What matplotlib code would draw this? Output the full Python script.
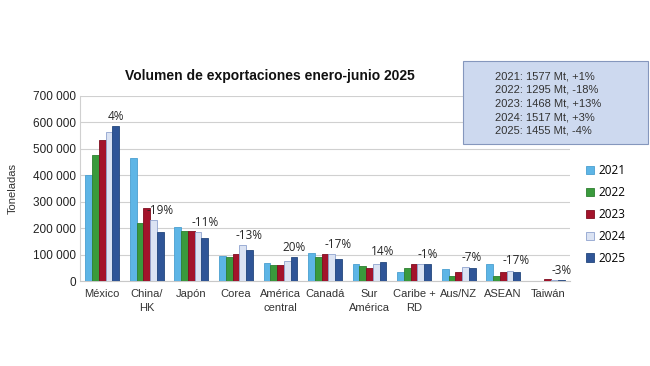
import matplotlib
matplotlib.use("Agg")
import matplotlib.pyplot as plt
import numpy as np

categories = ["México", "China/\nHK", "Japón", "Corea", "América\ncentral", "Canadá",
              "Sur\nAmérica", "Caribe +\nRD", "Aus/NZ", "ASEAN", "Taiwán"]
years = ["2021", "2022", "2023", "2024", "2025"]
v2021 = [400000, 467000, 206000, 96000, 67000, 106000, 66000, 34000, 47000, 64000, 1500]
v2022 = [475000, 221000, 189000, 92000, 60000, 91000, 56000, 49000, 19000, 21000, 800]
v2023 = [533000, 275000, 189000, 102000, 62000, 101000, 51000, 64000, 35000, 34000, 8000]
v2024 = [565000, 230000, 184000, 136000, 76000, 103000, 66000, 64000, 54000, 40000, 4500]
v2025 = [586000, 184000, 163000, 118000, 91000, 84000, 74000, 63000, 50000, 33000, 4300]
pct_labels = ["4%", "-19%", "-11%", "-13%", "20%", "-17%", "14%", "-1%", "-7%", "-17%", "-3%"]
yticks = [0, 100000, 200000, 300000, 400000, 500000, 600000, 700000]
ytick_labels = ["0", "100 000", "200 000", "300 000", "400 000", "500 000", "600 000", "700 000"]
summary_lines = ["2021: 1577 Mt, +1%", "2022: 1295 Mt, -18%", "2023: 1468 Mt, +13%",
                 "2024: 1517 Mt, +3%", "2025: 1455 Mt, -4%"]

series = [v2021, v2022, v2023, v2024, v2025]
colors = ["#5db5e6", "#3a9a3c", "#a3132b", "#dbe3f3", "#2f5597"]
edges = ["#4a9fd0", "#2e7f30", "#7f0e20", "#8fa3cf", "#24477d"]

plt.rcParams['font.family'] = ['Liberation Sans', 'DejaVu Sans']
fig = plt.figure(figsize=(6.5, 3.66), dpi=100)
ax = fig.add_axes([0.123, 0.232, 0.754, 0.506])

x = np.arange(len(categories))
bw = 0.152
for i, (vals, c, ec) in enumerate(zip(series, colors, edges)):
    ax.bar(x + (i - 2) * bw, vals, width=bw, color=c, edgecolor=ec, linewidth=0.6,
           label=years[i], zorder=3)

for xi, lab, a, b in zip(x, pct_labels, v2024, v2025):
    ax.text(xi + 0.3, max(a, b) + 36000, lab, ha='center', va='center', fontsize=8.5,
            color='#262626', family=['Open Sans', 'DejaVu Sans'], zorder=4)

ax.set_xlim(-0.5, len(categories) - 0.5)
ax.set_ylim(0, 700000)
ax.set_yticks(yticks)
ax.set_yticklabels(ytick_labels, fontsize=8.5, color='#222222')
ax.set_xticks(x)
ax.set_xticklabels(categories, fontsize=8, color='#333333', linespacing=1.45)
ax.tick_params(axis='y', length=0, pad=3)
ax.tick_params(axis='x', length=0, pad=6)
ax.grid(axis='y', color='#d0d0d0', linewidth=0.8, zorder=0)
for s in ['top', 'right']:
    ax.spines[s].set_visible(False)
ax.spines['left'].set_color('#d0d0d0')
ax.spines['bottom'].set_color('#c8c8c8')
ax.set_ylabel("Toneladas", fontsize=8, color='#333333', labelpad=11)

fig.text(0.415, 0.792, "Volumen de exportaciones enero-junio 2025", ha='center', va='center',
         fontsize=10, fontweight='bold', color='#111111')

leg = fig.legend(loc='upper left', bbox_to_anchor=(0.885, 0.58), frameon=False,
                 handlelength=0.7, handleheight=0.7, handletextpad=0.4,
                 labelspacing=0.75, prop={'family': ['Open Sans', 'DejaVu Sans'], 'size': 8.5})

fig.patches.append(matplotlib.patches.Rectangle((0.712, 0.607), 0.285, 0.225,
                   transform=fig.transFigure, facecolor='#cdd9ef', edgecolor='#8597bd',
                   linewidth=0.8, zorder=5))
fig.text(0.762, 0.717, "\n".join(summary_lines), ha='left', va='center', fontsize=8,
         color='#333333', linespacing=1.45, zorder=6)

fig.savefig("out.png", dpi=100)
